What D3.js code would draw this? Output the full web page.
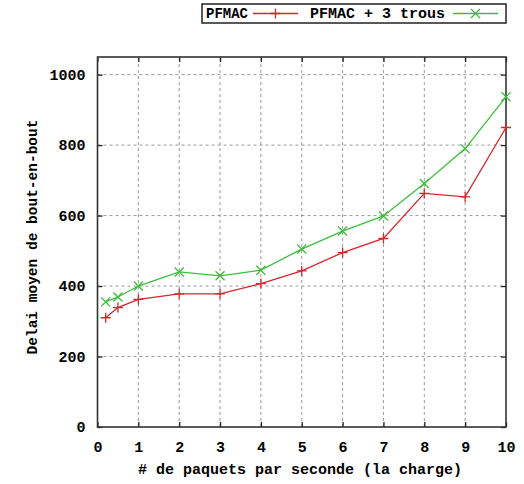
<!DOCTYPE html>
<html><head><meta charset="utf-8">
<script src="https://cdn.jsdelivr.net/npm/d3@7"></script>
<style>
html,body{margin:0;padding:0;background:#fff;}
text{font-family:"Liberation Mono","DejaVu Sans Mono",monospace;font-weight:bold;font-size:15px;fill:#000;}
</style></head>
<body>
<svg id="c" width="524" height="484"></svg>
<script>
const xValues = [0.2, 0.5, 1, 2, 3, 4, 5, 6, 7, 8, 9, 10];
const pfmac = [310, 339, 362, 378, 378, 407, 443, 495, 535, 663, 653, 850];
const pfmac3 = [355, 369, 400, 440, 429, 445, 505, 556, 599, 691, 790, 937];
const seriesNames = ["PFMAC", "PFMAC + 3 trous"];
const xTicks = [0,1,2,3,4,5,6,7,8,9,10];
const yTicks = [0,200,400,600,800,1000];
const xTitle = "# de paquets par seconde (la charge)";
const yTitle = "Delai moyen de bout-en-bout";

const svg = d3.select("#c");
const L = 97.5, R = 506, T = 57, B = 427;
const x = d3.scaleLinear().domain([0,10]).range([L,R]);
const y = d3.scaleLinear().domain([0,1050]).range([B,T]);

// grid
const g = svg.append("g");
g.selectAll(".vg").data(xTicks.slice(1,-1)).join("line")
 .attr("x1",d=>x(d)).attr("x2",d=>x(d)).attr("y1",B).attr("y2",T)
 .attr("stroke","#999").attr("stroke-width",1).attr("stroke-dasharray","3,3");
g.selectAll(".hg").data(yTicks.slice(1)).join("line")
 .attr("y1",d=>y(d)).attr("y2",d=>y(d)).attr("x1",L).attr("x2",R)
 .attr("stroke","#999").attr("stroke-width",1).attr("stroke-dasharray","3,3");

// axes with inward ticks
const ax = d3.axisBottom(x).tickValues(xTicks).tickSize(-5).tickPadding(14).tickFormat(d3.format("d"));
const ay = d3.axisLeft(y).tickValues(yTicks).tickSize(-5).tickPadding(12).tickFormat(d3.format("d"));
const axT = d3.axisTop(x).tickValues(xTicks).tickSize(-5).tickFormat("");
const ayR = d3.axisRight(y).tickValues(yTicks).tickSize(-5).tickFormat("");
function style(sel){sel.attr("font-family",null).attr("font-size",null);sel.select(".domain").remove();sel.selectAll(".tick line").attr("stroke","#222").attr("stroke-width",1.3);sel.selectAll("text").attr("fill","#000");}
svg.append("g").attr("transform",`translate(0,${B})`).call(ax).call(style);
svg.append("g").attr("transform",`translate(${L},0)`).call(ay).call(style);
svg.append("g").attr("transform",`translate(0,${T})`).call(axT).call(style);
svg.append("g").attr("transform",`translate(${R},0)`).call(ayR).call(style);

// border
svg.append("rect").attr("x",L).attr("y",T).attr("width",R-L).attr("height",B-T)
 .attr("fill","none").attr("stroke","#333").attr("stroke-width",1.6);

// titles
svg.append("text").attr("x",300).attr("y",474).attr("text-anchor","middle").text(xTitle);
svg.append("text").attr("transform",`translate(37,${(T+B)/2 - 5}) rotate(-90)`).attr("text-anchor","middle").style("font-size","14.5px").text(yTitle);

// series
const colors = ["#d8262b","#3cbf3c"];
const data = [pfmac, pfmac3];
const line = d3.line().x((d,i)=>x(xValues[i])).y(d=>y(d));
const ms = 5;
function marker(sel, kind, cx, cy, col){
  if(kind===0){
    sel.append("path").attr("d",`M${cx-ms},${cy}H${cx+ms}M${cx},${cy-ms}V${cy+ms}`).attr("stroke",col).attr("stroke-width",1.3).attr("fill","none");
  } else {
    const s=ms-0.5;
    sel.append("path").attr("d",`M${cx-s},${cy-s}L${cx+s},${cy+s}M${cx-s},${cy+s}L${cx+s},${cy-s}`).attr("stroke",col).attr("stroke-width",1.3).attr("fill","none");
  }
}
data.forEach((vals,k)=>{
  svg.append("path").datum(vals).attr("d",line).attr("fill","none").attr("stroke",colors[k]).attr("stroke-width",1.3);
  const mg = svg.append("g");
  vals.forEach((v,i)=>marker(mg,k,x(xValues[i]),y(v),colors[k]));
});

// legend
const lg = svg.append("g");
lg.append("rect").attr("x",202).attr("y",4).attr("width",304).attr("height",19).attr("fill","#fff").attr("stroke","#222").attr("stroke-width",1.5);
lg.append("text").attr("x",248).attr("y",18).attr("text-anchor","end").style("font-size","14px").text(seriesNames[0]);
lg.append("line").attr("x1",253).attr("x2",298).attr("y1",13.5).attr("y2",13.5).attr("stroke",colors[0]).attr("stroke-width",1.3);
marker(lg,0,275.5,13.5,colors[0]);
lg.append("text").attr("x",445).attr("y",18).attr("text-anchor","end").style("font-size","15px").text(seriesNames[1]);
lg.append("line").attr("x1",453).attr("x2",498).attr("y1",13.5).attr("y2",13.5).attr("stroke",colors[1]).attr("stroke-width",1.3);
marker(lg,1,475.5,13.5,colors[1]);
</script>
</body></html>
